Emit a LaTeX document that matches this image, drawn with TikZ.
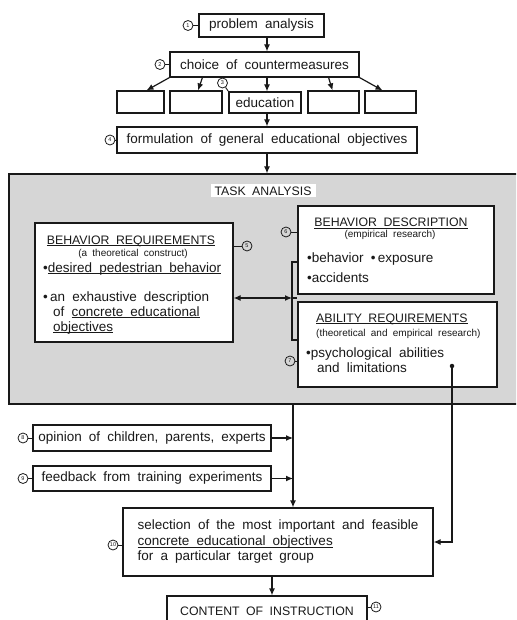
\documentclass[tikz,border=0pt]{standalone}
\usepackage{fontspec}
\setmainfont[WordSpace=1.9]{Liberation Sans}
\usetikzlibrary{arrows.meta,calc}
\definecolor{bg}{RGB}{214,214,214}
\definecolor{ink}{RGB}{25,25,25}
\begin{document}
\begin{tikzpicture}[x=1pt,y=-1pt,
  box/.style={draw=ink,fill=white,line width=1.2pt,inner sep=0pt,text=ink,font=\fontsize{13.5}{15}\selectfont},
  num/.style={circle,draw=ink,line width=0.8pt,inner sep=0pt,minimum size=10pt,text=ink,font=\fontsize{5.5}{5.5}\selectfont},
  arr/.style={draw=ink,line width=1.2pt,-{Latex[length=7pt,width=6pt]}},
  ln/.style={draw=ink,line width=1.2pt},
  tick/.style={draw=ink,line width=0.9pt},
  body/.style={inner sep=0pt,font=\fontsize{13.5}{15}\selectfont,text=ink},
  captxt/.style={inner sep=0pt,font=\fontsize{12.3}{14}\selectfont,text=ink},
  paren/.style={inner sep=0pt,font=\fontsize{10}{12}\selectfont,text=ink}]
\useasboundingbox (0,0) rectangle (516,620);
\clip (0,0) rectangle (516,620);
\fill[white] (0,0) rectangle (516,620);
\coordinate (ax) at (267,0);
\coordinate (vl) at (293,0);
\coordinate (sx) at (272,0);
% top chain
\node[box,minimum width=125pt,minimum height=23pt] (pa) at (261.5,25.5) {problem analysis};
\node[box,minimum width=189pt,minimum height=25pt] (cc) at (264.5,64.5) {choice of countermeasures};
\node[box,minimum width=47pt,minimum height=22pt] (b1) at (140.5,102) {};
\node[box,minimum width=52pt,minimum height=22pt] (b2) at (196,102) {};
\node[box,minimum width=72pt,minimum height=21pt] (ed) at (265,102.5) {education};
\node[box,minimum width=51pt,minimum height=22pt] (b4) at (333.5,102) {};
\node[box,minimum width=51pt,minimum height=22pt] (b5) at (390.5,102) {};
\node[box,minimum width=300pt,minimum height=26pt] (fo) at (267,140) {formulation of general educational objectives};
\draw[arr] (pa.south -| ax) -- (cc.north -| ax);
\draw[arr] (cc.south west) -- ($(b1.north)+(6,0)$);
\draw[arr] ($(cc.south west)+(33,0)$) -- ($(b2.north)+(2,0)$);
\draw[arr] (cc.south -| ax) -- (ed.north -| ax);
\draw[arr] ($(cc.south east)+(-31,0)$) -- ($(b4.north)+(-1,0)$);
\draw[arr] (cc.south east) -- ($(b5.north)+(-8,0)$);
\draw[arr] (ed.south -| ax) -- (fo.north -| ax);
% task analysis
\node[draw=ink,fill=bg,line width=1.2pt,minimum width=515pt,minimum height=230pt,inner sep=0pt] (tabox) at (266.5,289) {};
\draw[arr] (fo.south -| ax) -- (tabox.north -| ax);
\node[captxt,fill=white,minimum width=105pt,minimum height=13pt] (tal) at (263,191) {TASK ANALYSIS};
% behavior requirements
\node[box,minimum width=198pt,minimum height=119pt] (br) at (134,282.5) {};
\node[captxt,anchor=base] (brT) at (131,244) {\underline{\smash{BEHAVIOR REQUIREMENTS}}};
\node[paren,anchor=base] (brS) at (133,256.5) {(a theoretical construct)};
\node[body,anchor=base west] (brL1) at (43,272) {\textbullet\underline{\smash{desired pedestrian behavior}}};
\node[body,anchor=base west] (brL2) at (43,301) {\textbullet\,an exhaustive description};
\node[body,anchor=base west] (brL3) at (53,316) {of \underline{\smash{concrete educational}}};
\node[body,anchor=base west] (brL4) at (53,331) {\underline{\smash{objectives}}};
% behavior description
\node[box,minimum width=196pt,minimum height=88pt] (bd) at (396,250) {};
\node[captxt,anchor=base] (bdT) at (391,226.5) {\underline{\smash{BEHAVIOR DESCRIPTION}}};
\node[paren,anchor=base] (bdS) at (390,237.5) {(empirical research)};
\node[body,anchor=base west] (bdL1) at (307,262) {\textbullet behavior \textbullet\,exposure};
\node[body,anchor=base west] (bdL2) at (307,282) {\textbullet accidents};
% ability requirements
\node[box,minimum width=199pt,minimum height=85pt] (ar) at (397.5,344.5) {};
\node[captxt,anchor=base west] (arT) at (316,322) {\underline{\smash{ABILITY REQUIREMENTS}}};
\node[paren,anchor=base west] (arS) at (316,336.5) {(theoretical and empirical research)};
\node[body,anchor=base west] (arL1) at (306,357) {\textbullet psychological abilities};
\node[body,anchor=base west] (arL2) at (317,372) {and limitations};
\node[circle,fill=ink,inner sep=0pt,minimum size=4.5pt] (dot) at (452,366) {};
% bracket and double arrow
\coordinate (k1) at (292,262);
\coordinate (k2) at (292,340);
\coordinate (km) at (292,298);
\draw[ln] (bd.west |- k1) -- (k1) -- (k2) -- (ar.west |- k2);
\draw[ln] (km) -- (km -| bd.west);
\draw[ln,{Latex[length=7pt,width=6pt]}-{Latex[length=7pt,width=6pt]}] (br.east |- km) -- (km);
% lower part
\node[box,minimum width=238pt,minimum height=26pt] (op) at (152,438) {opinion of children, parents, experts};
\node[box,minimum width=238pt,minimum height=25pt] (fb) at (152,478.5) {feedback from training experiments};
\node[box,minimum width=310pt,minimum height=68pt,align=left,font=\fontsize{13.5}{15.5}\selectfont] (se) at (278,542) {selection of the most important and feasible\\\underline{\smash{concrete educational objectives}}\\for a particular target group};
\node[box,minimum width=200pt,minimum height=30pt,font=\fontsize{12.3}{14}\selectfont] (co) at (267,611) {CONTENT OF INSTRUCTION};
\draw[arr] (tabox.south -| vl) -- (se.north -| vl);
\draw[arr] (op.east) -- (op.east -| vl);
\draw[arr] (fb.east) -- (fb.east -| vl);
\draw[arr] (dot) |- (se.east);
\draw[arr] (se.south -| sx) -- (co.north -| sx);
% numbered circles
\node[num] (n1) at (188,25.5) {1};
\node[num] (n2) at (160,64.5) {2};
\node[num] (n3) at (222.5,83) {3};
\node[num] (n4) at (110,140) {4};
\node[num] (n5) at (247,246) {5};
\node[num] (n6) at (286,232) {6};
\node[num] (n7) at (290,361) {7};
\node[num] (n8) at (23,438) {8};
\node[num] (n9) at (23,478.5) {9};
\node[num] (n10) at (113,545) {10};
\node[num] (n11) at (376,607) {11};
\draw[tick] (n1) -- (pa.west);
\draw[tick] (n2) -- (cc.west);
\draw[tick] (n3) -- (ed.north west);
\draw[tick] (n4) -- (fo.west);
\draw[tick] (n5) -- (n5 -| br.east);
\draw[tick] (n6) -- (n6 -| bd.west);
\draw[tick] (n7) -- (n7 -| ar.west);
\draw[tick] (n8) -- (op.west);
\draw[tick] (n9) -- (fb.west);
\draw[tick] (n10) -- (n10 -| se.west);
\draw[tick] (n11) -- (n11 -| co.east);
\end{tikzpicture}
\end{document}
